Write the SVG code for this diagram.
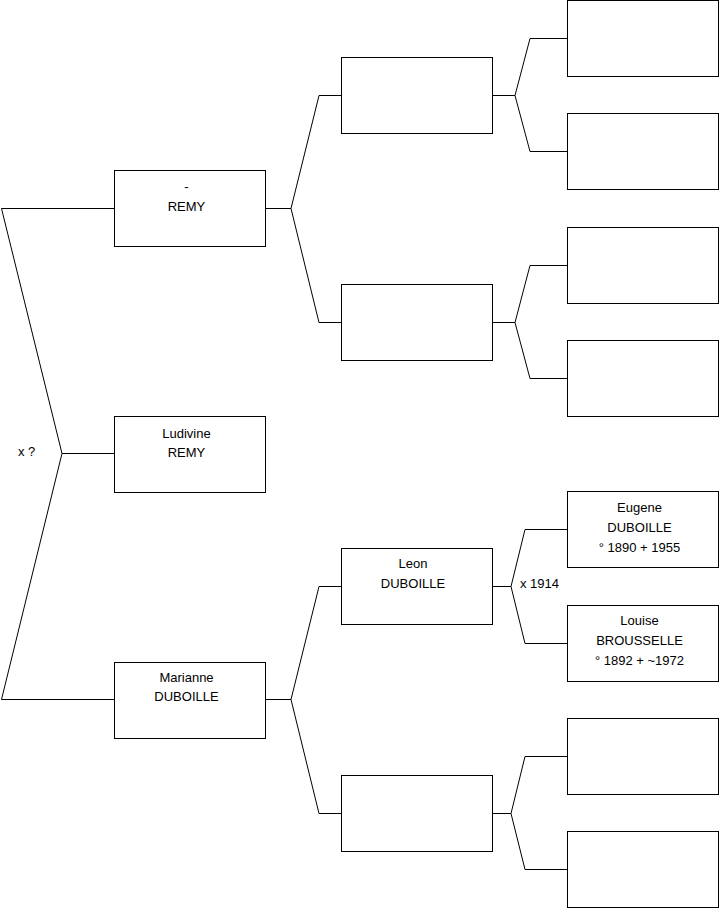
<svg xmlns="http://www.w3.org/2000/svg" width="719" height="908" viewBox="0 0 719 908">
<style>
.box{fill:#fff;stroke:#000;stroke-width:1}
.ln{fill:none;stroke:#000;stroke-width:1}
text{font-family:"Liberation Sans",Arial,sans-serif;font-size:13px;fill:#000}
.c{text-anchor:middle}
</style>
<rect width="719" height="908" fill="#fff"/>
<g id="connectors">
<polyline class="ln" points="114,208.5 1.5,208.5 62,453.5 1.5,699.5 114,699.5"/>
<line class="ln" x1="62" y1="453.5" x2="114" y2="453.5"/>
<polyline class="ln" points="341,95.5 319,95.5 291,208.5 319,322.5 341,322.5"/>
<line class="ln" x1="265" y1="208.5" x2="291" y2="208.5"/>
<polyline class="ln" points="341,586.5 319,586.5 291,699.5 319,813.5 341,813.5"/>
<line class="ln" x1="265" y1="699.5" x2="291" y2="699.5"/>
<polyline class="ln" points="567,38.5 530,38.5 515,95.5 530,151.5 567,151.5"/>
<line class="ln" x1="492" y1="95.5" x2="515" y2="95.5"/>
<polyline class="ln" points="567,265.5 530,265.5 515,322.5 530,378.5 567,378.5"/>
<line class="ln" x1="492" y1="322.5" x2="515" y2="322.5"/>
<polyline class="ln" points="567,529.5 525,529.5 511,586.5 525,643.5 567,643.5"/>
<line class="ln" x1="492" y1="586.5" x2="511" y2="586.5"/>
<polyline class="ln" points="567,756.5 525,756.5 511,813.5 525,869.5 567,869.5"/>
<line class="ln" x1="492" y1="813.5" x2="511" y2="813.5"/>
<text x="18" y="456">x ?</text>
<text x="520" y="588">x 1914</text>
</g>
<g id="n-remy">
<rect class="box" x="114.5" y="170.5" width="151" height="76"/>
<text class="c" x="186.5" y="191">-</text>
<text class="c" x="186.5" y="211">REMY</text>
</g>
<g id="n-ludivine">
<rect class="box" x="114.5" y="416.5" width="151" height="76"/>
<text class="c" x="186.5" y="438">Ludivine</text>
<text class="c" x="186.5" y="457">REMY</text>
</g>
<g id="n-marianne">
<rect class="box" x="114.5" y="662.5" width="151" height="76"/>
<text class="c" x="186.5" y="682">Marianne</text>
<text class="c" x="186.5" y="701">DUBOILLE</text>
</g>
<g id="n-f1"><rect class="box" x="341.5" y="57.5" width="151" height="76"/></g>
<g id="n-m1"><rect class="box" x="341.5" y="284.5" width="151" height="76"/></g>
<g id="n-leon">
<rect class="box" x="341.5" y="548.5" width="151" height="76"/>
<text class="c" x="413" y="568">Leon</text>
<text class="c" x="413" y="588">DUBOILLE</text>
</g>
<g id="n-m2"><rect class="box" x="341.5" y="775.5" width="151" height="76"/></g>
<g id="n-ff"><rect class="box" x="567.5" y="0.5" width="151" height="76"/></g>
<g id="n-fm"><rect class="box" x="567.5" y="113.5" width="151" height="76"/></g>
<g id="n-mf"><rect class="box" x="567.5" y="227.5" width="151" height="76"/></g>
<g id="n-mm"><rect class="box" x="567.5" y="340.5" width="151" height="76"/></g>
<g id="n-eugene">
<rect class="box" x="567.5" y="491.5" width="151" height="76"/>
<text class="c" x="639.5" y="512">Eugene</text>
<text class="c" x="639.5" y="532">DUBOILLE</text>
<text class="c" x="639.5" y="552">° 1890 + 1955</text>
</g>
<g id="n-louise">
<rect class="box" x="567.5" y="605.5" width="151" height="76"/>
<text class="c" x="639.5" y="625">Louise</text>
<text class="c" x="639.5" y="645">BROUSSELLE</text>
<text class="c" x="639.5" y="665">° 1892 + ~1972</text>
</g>
<g id="n-m2f"><rect class="box" x="567.5" y="718.5" width="151" height="76"/></g>
<g id="n-m2m"><rect class="box" x="567.5" y="831.5" width="151" height="76"/></g>
</svg>
